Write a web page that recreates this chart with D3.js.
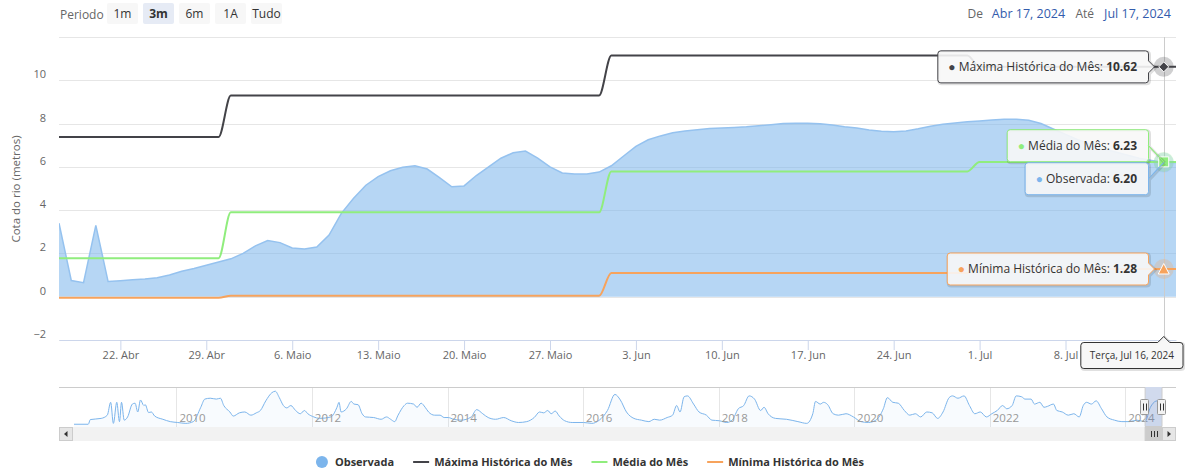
<!DOCTYPE html>
<html>
<head>
<meta charset="utf-8">
<script src="https://cdn.jsdelivr.net/npm/d3@7/dist/d3.min.js"></script>
<style>
  body { margin: 0; background: #fff; }
  svg { display: block; font-family: "Open Sans", "Liberation Sans", sans-serif; }
</style>
</head>
<body>
<div id="chart"></div>
<script>
// ---- dados ----
const startDate = "2024-04-17";
const endDate = "2024-07-17";
const hoverDate = "2024-07-16";

// cota observada, um valor por dia a partir de 17/04
const obsValues = [
  3.4, 0.75, 0.65, 3.3, 0.7, 0.74, 0.78, 0.82, 0.88, 1.0,       // 17-26 abr
  1.18, 1.3, 1.45, 1.6, 1.75, 2.0, 2.35, 2.6, 2.5, 2.25,         // 27 abr - 6 mai
  2.2, 2.3, 2.85, 3.85, 4.55, 5.15, 5.55, 5.82, 5.98, 6.05,      // 7-16 mai
  5.9, 5.5, 5.08, 5.12, 5.6, 6.0, 6.4, 6.65, 6.73, 6.4,          // 17-26 mai
  6.0, 5.72, 5.67, 5.67, 5.76, 6.05, 6.5, 6.95, 7.25, 7.43,      // 27 mai - 5 jun
  7.58, 7.66, 7.72, 7.77, 7.8, 7.82, 7.85, 7.9, 7.95, 8.0,       // 6-15 jun
  8.02, 8.02, 7.99, 7.93, 7.85, 7.8, 7.7, 7.64, 7.62, 7.66,      // 16-25 jun
  7.76, 7.88, 7.97, 8.03, 8.08, 8.12, 8.16, 8.2, 8.2, 8.15,      // 26 jun - 5 jul
  8.0, 7.75, 7.5, 7.25, 7.05, 6.85, 6.7, 6.55, 6.4, 6.3,         // 6-15 jul
  6.2, 6.2                                                       // 16-17 jul
];

// valores mensais (um por mes)
const monthStarts = ["2024-04-17", "2024-05-01", "2024-06-01", "2024-07-01"];
const monthEnds   = ["2024-04-30", "2024-05-31", "2024-06-30", "2024-07-17"];
const maxMonth  = [7.38, 9.3, 11.14, 10.62];
const meanMonth = [1.78, 3.9, 5.79, 6.23];
const minMonth  = [-0.05, 0.04, 1.1, 1.28];

const seriesNames  = ["Observada", "Máxima Histórica do Mês", "Média do Mês", "Mínima Histórica do Mês"];
const seriesColors = ["#7cb5ec", "#434348", "#90ed7d", "#f7a35c"];

const xTicks = ["2024-04-22", "2024-04-29", "2024-05-06", "2024-05-13", "2024-05-20", "2024-05-27",
                "2024-06-03", "2024-06-10", "2024-06-17", "2024-06-24", "2024-07-01", "2024-07-08"];
const monthNames = ["Jan", "Fev", "Mar", "Abr", "Maio", "Jun", "Jul", "Ago", "Set", "Out", "Nov", "Dez"];
const dayNames = ["Domingo", "Segunda", "Terça", "Quarta", "Quinta", "Sexta", "Sábado"];
const yGrid = [-2, 0, 2, 4, 6, 8, 10, 12];
const yLabels = [-2, 0, 2, 4, 6, 8, 10];

const rangeButtons = ["1m", "3m", "6m", "1A", "Tudo"];
const selectedRange = "3m";

// navegador: serie historica (ano decimal, cota)
const navYears = [
  2008.49, 2008.70, 2008.73, 2008.89, 2008.98, 2009.03, 2009.07, 2009.12, 2009.16, 2009.19,
  2009.23, 2009.28, 2009.35, 2009.39, 2009.43, 2009.47, 2009.52, 2009.54, 2009.59, 2009.63,
  2009.68, 2009.80, 2009.91, 2010.02, 2010.14, 2010.25, 2010.36, 2010.42, 2010.50, 2010.59,
  2010.65, 2010.70, 2010.79, 2010.84, 2010.93, 2011.01, 2011.10, 2011.18, 2011.24, 2011.32,
  2011.41, 2011.46, 2011.52, 2011.58, 2011.63, 2011.69, 2011.76, 2011.83, 2011.89, 2011.94,
  2012.03, 2012.11, 2012.28, 2012.37, 2012.40, 2012.43, 2012.51, 2012.58, 2012.62, 2012.68,
  2012.74, 2012.79, 2012.91, 2013.02, 2013.10, 2013.16, 2013.22, 2013.27, 2013.36, 2013.41,
  2013.50, 2013.55, 2013.61, 2013.67, 2013.72, 2013.81, 2013.89, 2013.95, 2014.01, 2014.09,
  2014.20, 2014.35, 2014.43, 2014.52, 2014.60, 2014.71, 2014.83, 2014.94, 2015.05, 2015.17,
  2015.28, 2015.36, 2015.42, 2015.48, 2015.53, 2015.59, 2015.65, 2015.73, 2015.84, 2016.01,
  2016.13, 2016.24, 2016.36, 2016.47, 2016.55, 2016.64, 2016.75, 2016.86, 2016.97, 2017.05,
  2017.13, 2017.24, 2017.32, 2017.38, 2017.43, 2017.49, 2017.54, 2017.63, 2017.71, 2017.82,
  2017.90, 2018.01, 2018.12, 2018.20, 2018.29, 2018.37, 2018.45, 2018.53, 2018.62, 2018.67,
  2018.73, 2018.84, 2019.00, 2019.17, 2019.30, 2019.39, 2019.43, 2019.50, 2019.55, 2019.61,
  2019.69, 2019.77, 2019.88, 2019.99, 2020.10, 2020.21, 2020.32, 2020.43, 2020.49, 2020.57,
  2020.65, 2020.74, 2020.82, 2020.90, 2020.98, 2021.07, 2021.15, 2021.23, 2021.31, 2021.40,
  2021.45, 2021.53, 2021.62, 2021.70, 2021.78, 2021.86, 2021.95, 2022.03, 2022.11, 2022.19,
  2022.25, 2022.33, 2022.39, 2022.47, 2022.52, 2022.61, 2022.66, 2022.74, 2022.80, 2022.85,
  2022.94, 2022.99, 2023.07, 2023.16, 2023.24, 2023.32, 2023.38, 2023.43, 2023.50, 2023.57,
  2023.65, 2023.73, 2023.84, 2023.95, 2024.06, 2024.17, 2024.29, 2024.37, 2024.45, 2024.50,
  2024.54
];
const navLevels = [
  0.1, 0.1, 1.7, 2.1, 3.2, 7.6, 0.4, 7.6, 1.0, 7.6,
  1.5, 2.6, 7.0, 7.3, 4.3, 8.4, 6.5, 6.8, 4.1, 4.3,
  2.9, 1.8, 1.0, 0.7, 0.4, 1.0, 5.9, 8.7, 9.0, 8.7,
  9.0, 6.5, 4.3, 2.9, 4.0, 4.3, 3.2, 4.0, 4.8, 8.1,
  10.9, 11.4, 9.2, 6.5, 5.7, 6.5, 4.8, 3.7, 4.8, 3.7,
  2.6, 2.1, 2.6, 5.9, 7.6, 4.3, 5.4, 7.9, 7.0, 6.8,
  3.7, 2.6, 2.4, 1.8, 2.6, 1.8, 1.0, 3.2, 6.5, 7.3,
  7.0, 5.9, 7.3, 5.9, 4.3, 3.2, 3.2, 2.4, 2.4, 1.8,
  1.5, 2.6, 5.1, 3.7, 2.4, 1.8, 2.4, 1.3, 0.7, 1.0,
  2.4, 4.3, 4.0, 4.8, 3.7, 4.6, 2.9, 1.3, 0.7, 0.7,
  0.4, 1.5, 4.8, 10.3, 8.4, 4.3, 2.1, 1.5, 1.0, 1.8,
  1.5, 2.4, 3.2, 6.5, 4.3, 9.5, 9.8, 7.0, 4.3, 3.2,
  1.5, 1.3, 0.7, 1.5, 5.4, 6.5, 9.8, 8.7, 4.8, 5.9,
  3.7, 2.1, 1.8, 1.0, 0.4, 3.7, 7.9, 7.0, 7.6, 6.8,
  3.7, 3.2, 3.7, 2.6, 1.0, 0.7, 1.5, 5.4, 9.2, 7.6,
  7.3, 4.8, 3.2, 3.7, 2.6, 4.3, 4.0, 2.1, 4.3, 9.2,
  9.8, 9.0, 9.8, 6.5, 3.7, 4.3, 2.6, 3.7, 4.8, 6.5,
  5.4, 6.5, 9.8, 9.5, 8.7, 8.7, 7.0, 7.6, 5.9, 6.2,
  7.0, 4.8, 4.3, 3.2, 3.7, 2.6, 6.5, 7.6, 7.0, 8.1,
  5.4, 2.6, 1.5, 1.0, 1.0, 1.5, 1.0, 5.9, 8.0, 8.2,
  6.2
];
const navTickYears = [2010, 2012, 2014, 2016, 2018, 2020, 2022, 2024];

// ---- montagem ----
const parse = d3.utcParse("%Y-%m-%d");
const plot = {left: 59, right: 1176, top: 37, bottom: 340};

const svg = d3.select("#chart").append("svg")
    .attr("width", 1185)
    .attr("height", 473);

const x = d3.scaleUtc()
    .domain([parse(startDate), parse(endDate)])
    .range([plot.left, plot.right]);
const y = d3.scaleLinear()
    .domain([-2, 12])
    .range([plot.bottom, plot.top]);

const obsData = obsValues.map((v, i) => ({date: d3.utcDay.offset(parse(startDate), i), value: v}));
function monthly(vals) {
  const pts = [];
  vals.forEach((v, i) => {
    pts.push({date: parse(monthStarts[i]), value: v});
    pts.push({date: parse(monthEnds[i]), value: v});
  });
  return pts;
}
const lineSeries = [maxMonth, meanMonth, minMonth].map(monthly);

// seletor de periodo
svg.append("text")
    .attr("x", 60).attr("y", 19)
    .attr("fill", "#666").attr("font-size", 12)
    .text("Periodo");
const btn = svg.append("g").selectAll("g")
    .data(rangeButtons)
    .join("g")
    .attr("transform", (d, i) => "translate(" + (107 + i * 36) + ",3)");
btn.append("rect")
    .attr("width", 31).attr("height", 21).attr("rx", 2)
    .attr("fill", d => d === selectedRange ? "#e6ebf5" : "#f7f7f7");
btn.append("text")
    .attr("x", 15.5).attr("y", 15)
    .attr("text-anchor", "middle")
    .attr("font-size", 12)
    .attr("font-weight", d => d === selectedRange ? "bold" : "normal")
    .attr("fill", "#333")
    .text(d => d);

// datas do intervalo
const inputFmt = d => monthNames[d.getUTCMonth()] + " " + d.getUTCDate() + ", " + d.getUTCFullYear();
svg.append("text").attr("x", 983).attr("y", 18).attr("text-anchor", "end")
    .attr("font-size", 12).attr("fill", "#666").text("De");
svg.append("text").attr("x", 1028.5).attr("y", 18).attr("text-anchor", "middle")
    .attr("font-size", 12.5).attr("fill", "#335cad").text(inputFmt(parse(startDate)));
svg.append("text").attr("x", 1094).attr("y", 18).attr("text-anchor", "end")
    .attr("font-size", 12).attr("fill", "#666").text("Até");
svg.append("text").attr("x", 1137.5).attr("y", 18).attr("text-anchor", "middle")
    .attr("font-size", 12.5).attr("fill", "#335cad").text(inputFmt(parse(endDate)));

// grade
svg.append("g").selectAll("line")
    .data(yGrid)
    .join("line")
    .attr("x1", plot.left).attr("x2", plot.right)
    .attr("y1", d => Math.round(y(d)) + 0.5).attr("y2", d => Math.round(y(d)) + 0.5)
    .attr("stroke", "#e6e6e6");

// eixo y
const yAxis = svg.append("g")
    .attr("transform", "translate(46,0)")
    .call(d3.axisLeft(y).tickValues(yLabels).tickSize(0).tickPadding(0)
      .tickFormat(d => d < 0 ? "\u2212" + Math.abs(d) : d));
yAxis.select(".domain").remove();
yAxis.selectAll("text").attr("y", -6).attr("fill", "#666").attr("font-size", 11)
    .attr("font-family", "Open Sans, sans-serif");

svg.append("text")
    .attr("transform", "translate(16,189) rotate(-90)")
    .attr("text-anchor", "middle").attr("dy", "0.35em")
    .attr("font-size", 11.5).attr("fill", "#666")
    .text("Cota do rio (metros)");

// series
svg.append("clipPath").attr("id", "clip")
  .append("rect").attr("x", plot.left).attr("y", plot.top)
  .attr("width", plot.right - plot.left).attr("height", plot.bottom - plot.top);
const series = svg.append("g").attr("clip-path", "url(#clip)");

series.append("path")
    .datum(obsData)
    .attr("fill", seriesColors[0]).attr("fill-opacity", 0.56)
    .attr("d", d3.area().x(d => x(d.date)).y0(y(0)).y1(d => y(d.value)));
series.append("path")
    .datum(obsData)
    .attr("fill", "none").attr("stroke", "#95c2ef").attr("stroke-width", 1.5)
    .attr("d", d3.line().x(d => x(d.date)).y(d => y(d.value)));

const line = d3.line().x(d => x(d.date)).y(d => y(d.value)).curve(d3.curveMonotoneX);
series.selectAll(".mline")
    .data(lineSeries)
    .join("path")
    .attr("class", "mline")
    .attr("fill", "none")
    .attr("stroke", (d, i) => seriesColors[i + 1])
    .attr("stroke-width", 2)
    .attr("d", line);

// eixo x
const xAxis = svg.append("g")
    .attr("transform", "translate(0," + plot.bottom + ")")
    .call(d3.axisBottom(x).tickValues(xTicks.map(parse)).tickSize(10).tickSizeOuter(0).tickPadding(1)
      .tickFormat(d => d.getUTCDate() + ". " + monthNames[d.getUTCMonth()]));
xAxis.select(".domain").attr("stroke", "#ccd6eb");
xAxis.selectAll("line").attr("stroke", "#ccd6eb");
xAxis.selectAll("text").attr("fill", "#666").attr("font-size", 11)
    .attr("font-family", "Open Sans, sans-serif");

// crosshair e marcadores
const hx = x(parse(hoverDate));
const hIdx = d3.utcDay.count(parse(startDate), parse(hoverDate));
const hMonth = monthStarts.filter(m => parse(m) <= parse(hoverDate)).length - 1;
const hoverVals = [obsValues[hIdx], maxMonth[hMonth], meanMonth[hMonth], minMonth[hMonth]];

svg.append("line")
    .attr("x1", Math.round(hx) + 0.5).attr("x2", Math.round(hx) + 0.5)
    .attr("y1", plot.top).attr("y2", plot.bottom)
    .attr("stroke", "#ccc");

const marks = svg.append("g");
[0, 1, 2, 3].forEach(i => {
  marks.append("circle").attr("cx", hx).attr("cy", y(hoverVals[i])).attr("r", 10)
      .attr("fill", seriesColors[i]).attr("fill-opacity", 0.25);
});
function symbolPath(i) {
  if (i === 0) return d3.symbol(d3.symbolCircle, 50)();
  if (i === 1) return "M0,-5L5,0L0,5L-5,0Z";
  if (i === 2) return "M-5,-5H5V5H-5Z";
  return "M0,-5.5L5.5,5L-5.5,5Z";
}
[0, 3, 1, 2].forEach(i => {
  marks.append("path")
      .attr("transform", "translate(" + hx + "," + y(hoverVals[i]) + ")")
      .attr("d", symbolPath(i))
      .attr("fill", seriesColors[i]).attr("stroke", "#fff").attr("stroke-width", 1);
});

// tooltip dividido
function callout(x0, y0, w, h, ax, ay, r) {
  const right = x0 + w, bottom = y0 + h, half = 6;
  let p = "M" + (x0 + r) + "," + y0 + "L" + (right - r) + "," + y0 +
          "Q" + right + "," + y0 + " " + right + "," + (y0 + r);
  if (ay > y0 + r + half && ay < bottom - r - half) {
    p += "L" + right + "," + (ay - half) + "L" + (right + 6) + "," + ay + "L" + right + "," + (ay + half);
  } else {
    p += "L" + right + "," + (y0 + h / 2) + "L" + ax + "," + ay + "L" + right + "," + (y0 + h / 2);
  }
  p += "L" + right + "," + (bottom - r) + "Q" + right + "," + bottom + " " + (right - r) + "," + bottom +
       "L" + (x0 + r) + "," + bottom + "Q" + x0 + "," + bottom + " " + x0 + "," + (bottom - r) +
       "L" + x0 + "," + (y0 + r) + "Q" + x0 + "," + y0 + " " + (x0 + r) + "," + y0 + "Z";
  return p;
}

const tipH = 33, tipRight = 1148;
let rows = [0, 1, 2, 3].map(i => ({i: i, ay: y(hoverVals[i])}));
rows.sort((a, b) => a.ay - b.ay);
// agrupa caixas sobrepostas
let groups = rows.map(r => ({items: [r], center: r.ay}));
let merged = true;
while (merged) {
  merged = false;
  for (let k = 1; k < groups.length; k++) {
    const a = groups[k - 1], b = groups[k];
    const aBottom = a.center + a.items.length * tipH / 2;
    const bTop = b.center - b.items.length * tipH / 2;
    if (aBottom > bTop) {
      const items = a.items.concat(b.items);
      groups.splice(k - 1, 2, {items: items, center: d3.mean(items, d => d.ay)});
      merged = true;
      break;
    }
  }
}
const tips = svg.append("g");
groups.forEach(g => {
  let top = g.center - g.items.length * tipH / 2;
  g.items.forEach(r => {
    const t = tips.append("g");
    const path = t.append("path");
    const shadow = t.insert("path", "path");
    const txt = t.append("text").attr("y", top + tipH / 2 + 4).attr("font-size", 12).attr("fill", "#333");
    txt.append("tspan").attr("fill", seriesColors[r.i]).text("\u25CF ");
    txt.append("tspan").text(seriesNames[r.i] + ": ");
    txt.append("tspan").attr("font-weight", "bold").text(hoverVals[r.i].toFixed(2));
    const w = txt.node().getComputedTextLength() + 22;
    const x0 = tipRight - w;
    txt.attr("x", x0 + 11);
    const d = callout(x0 + 0.5, top + 0.5, w, tipH - 1, hx, r.ay, 3);
    shadow.attr("d", d).attr("transform", "translate(1,1)")
        .attr("fill", "none").attr("stroke", "rgba(0,0,0,0.12)").attr("stroke-width", 3);
    path.attr("d", d).attr("fill", "rgba(247,247,247,0.9)")
        .attr("stroke", seriesColors[r.i]).attr("stroke-width", 1);
    top += tipH;
  });
});

// cabecalho da data
const hd = parse(hoverDate);
const head = svg.append("g");
const headPath = head.append("path");
const headShadow = head.insert("path", "path");
const headText = head.append("text")
    .attr("y", 359).attr("font-size", 10).attr("fill", "#333")
    .text(dayNames[hd.getUTCDay()] + ", " + monthNames[hd.getUTCMonth()] + " " + hd.getUTCDate() + ", " + hd.getUTCFullYear());
const hw = headText.node().getComputedTextLength() + 18;
const hx0 = 1183 - hw, hy0 = 342.5, hh = 26;
headText.attr("x", hx0 + 9);
const hpath = "M" + (hx0 + 3) + "," + hy0 + "L" + (hx - 6) + "," + hy0 + "L" + hx + "," + (hy0 - 6) +
    "L" + (hx + 6) + "," + hy0 + "L" + (hx0 + hw - 3) + "," + hy0 +
    "Q" + (hx0 + hw) + "," + hy0 + " " + (hx0 + hw) + "," + (hy0 + 3) +
    "L" + (hx0 + hw) + "," + (hy0 + hh - 3) + "Q" + (hx0 + hw) + "," + (hy0 + hh) + " " + (hx0 + hw - 3) + "," + (hy0 + hh) +
    "L" + (hx0 + 3) + "," + (hy0 + hh) + "Q" + hx0 + "," + (hy0 + hh) + " " + hx0 + "," + (hy0 + hh - 3) +
    "L" + hx0 + "," + (hy0 + 3) + "Q" + hx0 + "," + hy0 + " " + (hx0 + 3) + "," + hy0 + "Z";
headShadow.attr("d", hpath).attr("transform", "translate(1,1)")
    .attr("fill", "none").attr("stroke", "rgba(0,0,0,0.12)").attr("stroke-width", 3);
headPath.attr("d", hpath).attr("fill", "rgba(247,247,247,0.95)").attr("stroke", "#333").attr("stroke-width", 1);

// navegador
const nav = {left: 74, right: 1162, top: 387, bottom: 427};
function yearToDate(v) {
  const yr = Math.floor(v);
  const a = Date.UTC(yr, 0, 1), b = Date.UTC(yr + 1, 0, 1);
  return new Date(a + (v - yr) * (b - a));
}
const navData = navYears.map((v, i) => ({date: yearToDate(v), value: navLevels[i]}));
const navX = d3.scaleUtc()
    .domain([yearToDate(navYears[0]), parse(endDate)])
    .range([nav.left, nav.right]);
const navY = d3.scaleLinear().domain([-0.5, 12.5]).range([nav.bottom - 1, nav.top + 1]);

const navG = svg.append("g");
navG.selectAll(".ngrid")
    .data(navTickYears)
    .join("line")
    .attr("x1", d => Math.round(navX(yearToDate(d))) + 0.5)
    .attr("x2", d => Math.round(navX(yearToDate(d))) + 0.5)
    .attr("y1", nav.top).attr("y2", nav.bottom)
    .attr("stroke", "#e6e6e6");
navG.append("path")
    .datum(navData)
    .attr("fill", seriesColors[0]).attr("fill-opacity", 0.05)
    .attr("d", d3.area().x(d => navX(d.date)).y0(nav.bottom).y1(d => navY(d.value)).curve(d3.curveMonotoneX));
navG.append("path")
    .datum(navData)
    .attr("fill", "none").attr("stroke", seriesColors[0]).attr("stroke-width", 1)
    .attr("d", d3.line().x(d => navX(d.date)).y(d => navY(d.value)).curve(d3.curveMonotoneX));
navG.selectAll(".nlabel")
    .data(navTickYears)
    .join("text")
    .attr("x", d => navX(yearToDate(d)) + 3)
    .attr("y", 422)
    .attr("font-size", 11.5).attr("fill", "#999")
    .text(d => d);

const m0 = navX(parse(startDate)), m1 = navX(parse(endDate));
navG.append("rect")
    .attr("x", m0).attr("y", nav.top).attr("width", m1 - m0).attr("height", nav.bottom - nav.top)
    .attr("fill", "rgba(102,133,194,0.3)");
navG.append("path")
    .attr("d", "M" + plot.left + "," + (nav.top + 0.5) + "L" + m0 + "," + (nav.top + 0.5) +
      "L" + m0 + "," + (nav.bottom - 0.5) + "L" + m1 + "," + (nav.bottom - 0.5) +
      "L" + m1 + "," + (nav.top + 0.5) + "L" + plot.right + "," + (nav.top + 0.5))
    .attr("fill", "none").attr("stroke", "#ccc");
[m0, m1].forEach(hxp => {
  const h = navG.append("g").attr("transform", "translate(" + Math.round(hxp) + ",407)");
  h.append("rect").attr("x", -4.5).attr("y", -7.5).attr("width", 8).attr("height", 15).attr("rx", 1)
      .attr("fill", "#f2f2f2").attr("stroke", "#999");
  h.append("path").attr("d", "M-1.5,-3.5V3.5M1.5,-3.5V3.5").attr("stroke", "#333").attr("stroke-width", 1);
});

// barra de rolagem
const sbTop = 427, sbH = 14;
const sb = svg.append("g");
sb.append("rect").attr("x", plot.left).attr("y", sbTop).attr("width", plot.right - plot.left).attr("height", sbH)
    .attr("fill", "#f2f2f2");
sb.append("rect").attr("x", m0).attr("y", sbTop + 0.5).attr("width", m1 - m0).attr("height", sbH - 1)
    .attr("fill", "#ccc").attr("stroke", "#ccc");
const mc = Math.round((m0 + m1) / 2);
sb.append("path").attr("d", "M" + (mc - 2.5) + "," + (sbTop + 4) + "V" + (sbTop + 10) +
    "M" + (mc + 0.5) + "," + (sbTop + 4) + "V" + (sbTop + 10) + "M" + (mc + 3.5) + "," + (sbTop + 4) + "V" + (sbTop + 10))
    .attr("stroke", "#333");
[[plot.left, -1], [plot.right - sbH, 1]].forEach(([bx, dir]) => {
  sb.append("rect").attr("x", bx + 0.5).attr("y", sbTop + 0.5).attr("width", sbH - 1).attr("height", sbH - 1)
      .attr("fill", "#e6e6e6").attr("stroke", "#ccc");
  const cx = bx + sbH / 2, cy = sbTop + sbH / 2;
  sb.append("path")
      .attr("d", "M" + (cx - 1.5 * dir) + "," + (cy - 3) + "L" + (cx + 2 * dir) + "," + cy + "L" + (cx - 1.5 * dir) + "," + (cy + 3) + "Z")
      .attr("fill", "#333");
});

// legenda
const legend = svg.append("g");
let lx = 0;
seriesNames.forEach((name, i) => {
  const item = legend.append("g").attr("transform", "translate(" + lx + ",0)");
  if (i === 0) {
    item.append("circle").attr("cx", 8).attr("cy", 0).attr("r", 6).attr("fill", seriesColors[i]);
  } else {
    item.append("line").attr("x1", 0).attr("x2", 16).attr("y1", 0).attr("y2", 0)
        .attr("stroke", seriesColors[i]).attr("stroke-width", 2);
  }
  const t = item.append("text").attr("x", 21).attr("y", 4)
      .attr("font-size", 11).attr("font-weight", "bold").attr("fill", "#333").text(name);
  lx += 21 + t.node().getComputedTextLength() + 19;
});
const lw = lx - 19;
legend.attr("transform", "translate(" + (589 - lw / 2) + ",462)");
</script>
</body>
</html>
